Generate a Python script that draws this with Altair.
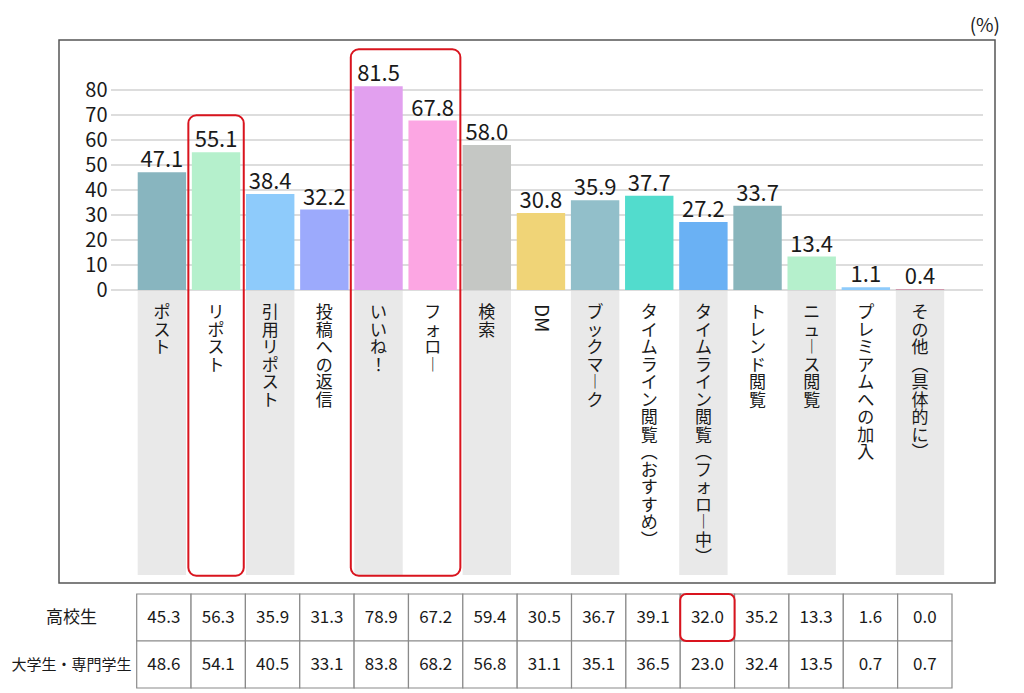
import altair as alt
import pandas as pd

categories = ["ポスト", "リポスト", "引用リポスト", "投稿への返信", "いいね！", "フォロー", "検索", "DM",
              "ブックマーク", "タイムライン閲覧（おすすめ）", "タイムライン閲覧（フォロー中）", "トレンド閲覧",
              "ニュース閲覧", "プレミアムへの加入", "その他（具体的に）"]
overall = [47.1, 55.1, 38.4, 32.2, 81.5, 67.8, 58.0, 30.8, 35.9, 37.7, 27.2, 33.7, 13.4, 1.1, 0.4]
high_school = [45.3, 56.3, 35.9, 31.3, 78.9, 67.2, 59.4, 30.5, 36.7, 39.1, 32.0, 35.2, 13.3, 1.6, 0.0]
university = [48.6, 54.1, 40.5, 33.1, 83.8, 68.2, 56.8, 31.1, 35.1, 36.5, 23.0, 32.4, 13.5, 0.7, 0.7]
bar_colors = ["#88b5bf", "#b5f0cc", "#8ecbfb", "#9caafc", "#e2a0ef", "#fca6e3", "#c5c7c4", "#f0d477",
              "#92bfca", "#52dccd", "#6ab1f4", "#89b5bb", "#b5f0cc", "#8ecbfb", "#d09aae"]
row_labels = ["高校生", "大学生・専門学生"]
y_ticks = [0, 10, 20, 30, 40, 50, 60, 70, 80]
highlight_groups = [["リポスト"], ["いいね！", "フォロー"]]
table_highlight = [("高校生", "タイムライン閲覧（フォロー中）")]

FONT = "Noto Sans CJK JP"
RED = "#d9141e"
INK = "#1a1a1a"
VERT = {"ー": "︱", "（": "︵", "）": "︶"}


def vertical(label):
    return "\n".join(VERT.get(c, c) for c in label)


df = pd.DataFrame({"cat": categories, "value": overall, "color": bar_colors})
df["vlabel"] = [vertical(c) for c in categories]
df["latin"] = [c.isascii() for c in categories]
df["shade"] = [i % 2 == 0 for i in range(len(categories))]

val_of = dict(zip(categories, overall))
hl = pd.DataFrame({
    "start": [g[0] for g in highlight_groups],
    "end": [g[-1] for g in highlight_groups],
    "top": [max(val_of[c] for c in g) + 14.8 for g in highlight_groups],
    "bottom": [-114.3] * len(highlight_groups),
})

xs = alt.Scale(domain=categories, range=[78.7, 885.2], paddingInner=0.106, paddingOuter=0)
ys = alt.Scale(domain=[-117.2, 100], nice=False, zero=False)
X = alt.X("cat:N", scale=xs, axis=None)

shade = alt.Chart(df).transform_filter("datum.shade").mark_rect(color="#e9e9e9").encode(
    x=X, y=alt.datum(0), y2=alt.datum(-114))

grid = alt.Chart(pd.DataFrame({"t": y_ticks})).mark_rule(color="#d2d2d2", strokeWidth=1.5).encode(
    y=alt.Y("t:Q", scale=ys), x=alt.value(52), x2=alt.value(924))

bars = alt.Chart(df).mark_bar().encode(
    x=X,
    y=alt.Y("value:Q", scale=ys,
            axis=alt.Axis(values=y_ticks, grid=False, domain=False, ticks=False, tickSize=0,
                          labelPadding=4, offset=-52, labelFontSize=20, labelFont=FONT,
                          labelColor=INK, title=None)),
    y2=alt.datum(0),
    color=alt.Color("color:N", scale=None),
)

values = alt.Chart(df).mark_text(baseline="alphabetic", dy=-5, fontSize=22, font=FONT, color=INK).encode(
    x=X, y=alt.Y("value:Q", scale=ys), text=alt.Text("value:Q", format=".1f"))

cat_labels = alt.Chart(df).transform_filter("!datum.latin").mark_text(
    baseline="top", align="center", dy=15, lineBreak="\n", lineHeight=17.5,
    fontSize=17, font=FONT, color=INK).encode(x=X, y=alt.datum(0), text="vlabel:N")

latin_labels = alt.Chart(df).transform_filter("datum.latin").mark_text(
    angle=90, align="left", baseline="middle", dx=14, fontSize=19, font=FONT, color=INK).encode(
    x=X, y=alt.datum(0), text="cat:N")

boxes = alt.Chart(hl).mark_rect(fillOpacity=0, stroke=RED, strokeWidth=2, cornerRadius=8,
                                xOffset=-3.5, x2Offset=3.5).encode(
    x=alt.X("start:N", scale=xs, bandPosition=0, axis=None),
    x2=alt.X2("end:N", bandPosition=1),
    y=alt.Y("top:Q", scale=ys),
    y2="bottom:Q",
)

top = alt.layer(shade, grid, bars, values, cat_labels, latin_labels, boxes).properties(
    width=936, height=543,
    title=alt.TitleParams("(%)", anchor="end", fontSize=19, font=FONT, fontWeight="normal",
                          offset=4, dx=5, color=INK),
    view=alt.ViewBackground(stroke="#555555", strokeWidth=1.5),
)

rows = []
for r, vals in zip(row_labels, [high_school, university]):
    for c, v in zip(categories, vals):
        rows.append({"row": r, "cat": c, "value": v, "hl": (r, c) in table_highlight})
tdf = pd.DataFrame(rows)

xt = alt.Scale(domain=categories, range=[77.7, 893.0], paddingInner=0, paddingOuter=0)
yt = alt.Scale(domain=row_labels, paddingInner=0, paddingOuter=0)
XT = alt.X("cat:N", scale=xt, axis=None)
YT = alt.Y("row:N", scale=yt, sort=row_labels,
           axis=alt.Axis(title=None, domain=False, ticks=False, tickSize=0, labelAlign="center",
                         labelPadding=4, offset=-16, labelFont=FONT, labelColor=INK,
                         labelFontSize={"condition": {"test": "datum.value === '高校生'", "value": 17},
                                        "value": 15}))

cells = alt.Chart(tdf).mark_rect(fill="white", stroke="#8a8a8a", strokeWidth=1.2).encode(x=XT, y=YT)
cell_text = alt.Chart(tdf).mark_text(fontSize=17, font=FONT, color=INK).encode(
    x=XT, y=YT, text=alt.Text("value:Q", format=".1f"))
cell_hl = alt.Chart(tdf).transform_filter("datum.hl").mark_rect(
    fillOpacity=0, stroke=RED, strokeWidth=2, cornerRadius=6).encode(x=XT, y=YT)

table = alt.layer(cells, cell_text, cell_hl).properties(
    width=936, height=94,
    view=alt.ViewBackground(strokeWidth=0),
)

chart = alt.vconcat(top, table, spacing=9).properties(
    padding={"left": 2, "top": 8, "right": 5, "bottom": 0},
    background="white",
).configure_view(strokeWidth=0)

chart.save("out.html", embed_options={"renderer": "svg", "actions": False})
